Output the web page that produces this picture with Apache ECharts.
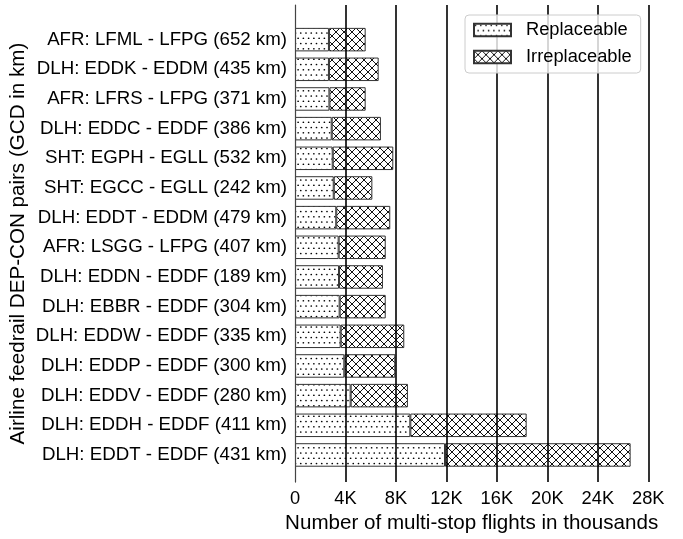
<!DOCTYPE html>
<html>
<head>
<meta charset="utf-8">
<script src="https://cdn.jsdelivr.net/npm/echarts@6/dist/echarts.min.js"></script>
<style>
html,body{margin:0;padding:0;background:#fff;}
#chart{width:683px;height:539px;}
</style>
</head>
<body>
<div id="chart"></div>
<script>
const categories = [
  'AFR: LFML - LFPG (652 km)',
  'DLH: EDDK - EDDM (435 km)',
  'AFR: LFRS - LFPG (371 km)',
  'DLH: EDDC - EDDF (386 km)',
  'SHT: EGPH - EGLL (532 km)',
  'SHT: EGCC - EGLL (242 km)',
  'DLH: EDDT - EDDM (479 km)',
  'AFR: LSGG - LFPG (407 km)',
  'DLH: EDDN - EDDF (189 km)',
  'DLH: EBBR - EDDF (304 km)',
  'DLH: EDDW - EDDF (335 km)',
  'DLH: EDDP - EDDF (300 km)',
  'DLH: EDDV - EDDF (280 km)',
  'DLH: EDDH - EDDF (411 km)',
  'DLH: EDDT - EDDF (431 km)'
];
const replaceable = [2690, 2690, 2730, 2910, 2990, 3070, 3270, 3460, 3490, 3540, 3620, 3910, 4410, 9140, 11890];
const irreplaceable = [2910, 3940, 2870, 3900, 4800, 3060, 4280, 3730, 3480, 3650, 5040, 4040, 4540, 9220, 14710];
const xTicks = [0, 4000, 8000, 12000, 16000, 20000, 24000, 28000];

const FONT = '"Liberation Sans", Arial, sans-serif';

function dotPattern() {
  const s = 21, d = 5.25;
  const c = document.createElement('canvas');
  c.width = s; c.height = s;
  const g = c.getContext('2d');
  g.fillStyle = '#fff'; g.fillRect(0, 0, s, s);
  g.fillStyle = '#000';
  for (let r = 0; r < 4; r++) {
    for (let k = 0; k < 4; k++) {
      const x = k * d + (r % 2) * d / 2 + 1.5;
      const y = r * d + 1.5;
      g.beginPath(); g.arc(x, y, 0.85, 0, Math.PI * 2); g.fill();
    }
  }
  return c;
}
function crossPattern() {
  const s = 16, p = 8;
  const c = document.createElement('canvas');
  c.width = s; c.height = s;
  const g = c.getContext('2d');
  g.fillStyle = '#fff'; g.fillRect(0, 0, s, s);
  g.strokeStyle = '#111'; g.lineWidth = 1;
  g.beginPath();
  for (let k = -2; k <= 2; k++) { g.moveTo(k * p, 0); g.lineTo(k * p + s, s); }
  for (let k = 0; k <= 4; k++) { g.moveTo(k * p, 0); g.lineTo(k * p - s, s); }
  g.stroke();
  return c;
}

const chart = echarts.init(document.getElementById('chart'), null, {renderer: 'canvas'});
const gridLeft = 295, gridW = 353.3;
chart.setOption({
  animation: false,
  textStyle: {fontFamily: FONT},
  grid: [
    {left: gridLeft, top: 5, width: gridW, height: 483, containLabel: false},
    {left: gridLeft, top: 24.8, width: gridW, height: 445, containLabel: false}
  ],
  legend: {
    orient: 'vertical', left: 465, top: 15, z: 10,
    padding: [5, 9, 6, 8], itemGap: 7,
    itemWidth: 37, itemHeight: 12.5, icon: 'rect',
    backgroundColor: 'rgba(255,255,255,0.8)', borderColor: '#ccc', borderWidth: 1, borderRadius: 4,
    textStyle: {fontSize: 18.3, color: '#000', fontFamily: FONT, lineHeight: 20, padding: [0, 0, 0, 10]},
    data: ['Replaceable', 'Irreplaceable']
  },
  xAxis: [
    {
      type: 'value', gridIndex: 0, min: 0, max: 28000, interval: 4000, z: 5,
      axisLine: {show: false}, axisTick: {show: false},
      splitLine: {show: true, showMinLine: false, lineStyle: {color: '#000', width: 1.6}},
      axisLabel: {fontSize: 18.3, color: '#000', margin: 8, fontFamily: FONT,
        formatter: v => xTicks.indexOf(v) < 0 ? '' : (v === 0 ? '0' : (v / 1000) + 'K')},
      name: 'Number of multi-stop flights in thousands', nameLocation: 'middle', nameGap: 26,
      nameTextStyle: {fontSize: 20.6, color: '#000', fontFamily: FONT}
    },
    {
      type: 'value', gridIndex: 1, min: 0, max: 28000, interval: 4000, show: false
    }
  ],
  yAxis: [
    {
      type: 'value', gridIndex: 0, min: 0, max: 1, z: 6,
      axisLine: {show: true, lineStyle: {color: '#444', width: 1.2}},
      axisTick: {show: false}, axisLabel: {show: false}, splitLine: {show: false},
      name: 'Airline feedrail DEP-CON pairs (GCD in km)', nameLocation: 'middle', nameGap: 266,
      nameTextStyle: {fontSize: 20.6, color: '#000', fontFamily: FONT}
    },
    {
      type: 'category', gridIndex: 1, data: categories, inverse: true,
      axisLine: {show: false}, axisTick: {show: false}, splitLine: {show: false},
      axisLabel: {fontSize: 18.7, color: '#000', margin: 8, fontFamily: FONT}
    }
  ],
  series: [
    {
      name: 'Replaceable', type: 'bar', stack: 'total', xAxisIndex: 1, yAxisIndex: 1,
      barWidth: 23.5, data: replaceable,
      itemStyle: {color: {image: dotPattern(), repeat: 'repeat'}, borderColor: '#333', borderWidth: 1}
    },
    {
      name: 'Irreplaceable', type: 'bar', stack: 'total', xAxisIndex: 1, yAxisIndex: 1,
      barWidth: 23.5, data: irreplaceable,
      itemStyle: {color: {image: crossPattern(), repeat: 'repeat'}, borderColor: '#333', borderWidth: 1}
    }
  ]
});
</script>
</body>
</html>
